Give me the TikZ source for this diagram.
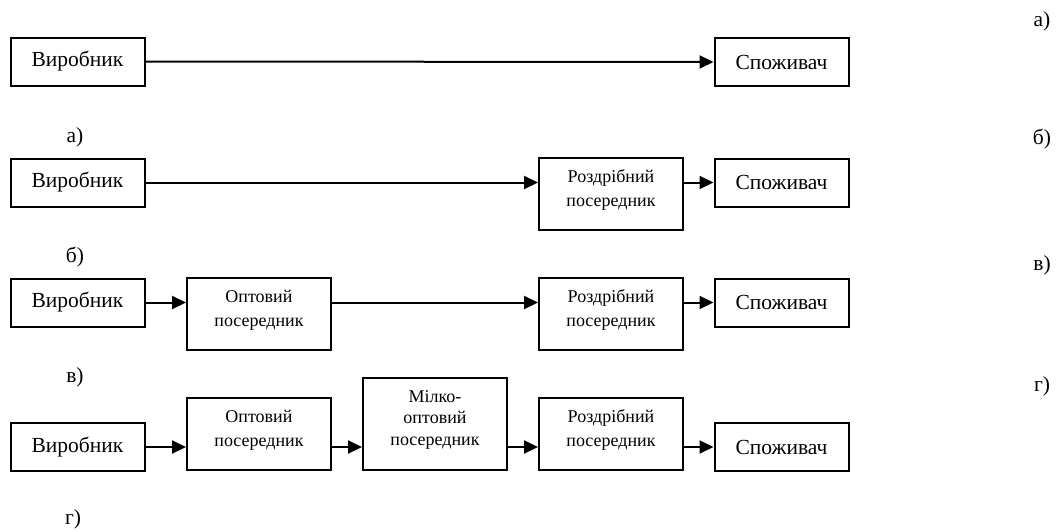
\documentclass[tikz,border=0pt]{standalone}
\usepackage{fontspec}
\setmainfont{Liberation Serif}
\usetikzlibrary{arrows.meta}
\begin{document}
\begin{tikzpicture}[x=1pt,y=-1pt,
  bx/.style={draw,line width=2pt,inner sep=0pt,align=center},
  endbox/.style={bx,minimum width=134pt,minimum height=48pt,font=\fontsize{21.5}{26}\selectfont},
  midbox/.style={bx,minimum width=144pt,minimum height=72pt,text depth=12pt,font=\fontsize{18}{24}\selectfont},
  tallbox/.style={bx,minimum width=144pt,minimum height=92pt,text depth=12pt,font=\fontsize{18}{21.5}\selectfont},
  lbl/.style={font=\fontsize{21.5}{26}\selectfont,inner sep=0pt},
  arr/.style={line width=2pt,-{Triangle[length=14pt,width=13pt]}}]
\useasboundingbox (0,0) rectangle (1062,531);

% a) producer straight to consumer
\node[endbox] (va) at (77.5,61.5) {Виробник};
\node[endbox] (ca) at (781.5,62) {Споживач};
\draw[arr] (va.east) -- (ca.west);
\node[lbl] (la) at (75,137) {а)};

% b) through a retailer
\node[endbox] (vb) at (77.5,182.5) {Виробник};
\node[midbox] (rb) at (611,194) {Роздрібний\\посередник};
\node[endbox] (cb) at (781.5,182.5) {Споживач};
\draw[arr] (vb.east) -- (vb.east -| rb.west);
\draw[arr] (cb.west -| rb.east) -- (cb.west);
\node[lbl] (lb) at (75,257) {б)};

% c) wholesaler and retailer
\node[endbox] (vc) at (77.5,302.5) {Виробник};
\node[midbox] (oc) at (259,314) {Оптовий\\посередник};
\node[midbox] (rc) at (611,314) {Роздрібний\\посередник};
\node[endbox] (cc) at (781.5,302.5) {Споживач};
\draw[arr] (vc.east) -- (vc.east -| oc.west);
\draw[arr] (vc.east -| oc.east) -- (vc.east -| rc.west);
\draw[arr] (cc.west -| rc.east) -- (cc.west);
\node[lbl] (lc) at (75,377) {в)};

% d) wholesaler, small wholesaler and retailer
\node[endbox] (vd) at (77.5,447) {Виробник};
\node[midbox] (od) at (259,434) {Оптовий\\посередник};
\node[tallbox] (md) at (435,424) {Мілко-\\оптовий\\посередник};
\node[midbox] (rd) at (611,434) {Роздрібний\\посередник};
\node[endbox] (cd) at (781.5,447) {Споживач};
\draw[arr] (vd.east) -- (vd.east -| od.west);
\draw[arr] (vd.east -| od.east) -- (vd.east -| md.west);
\draw[arr] (vd.east -| md.east) -- (vd.east -| rd.west);
\draw[arr] (cd.west -| rd.east) -- (cd.west);
\node[lbl] (ld) at (73,519) {г)};

% labels in the right margin
\node[lbl] (ra) at (1042,21) {а)};
\node[lbl] (rb2) at (1042,139) {б)};
\node[lbl] (rc2) at (1042,265) {в)};
\node[lbl] (rd2) at (1042,386) {г)};
\end{tikzpicture}
\end{document}
